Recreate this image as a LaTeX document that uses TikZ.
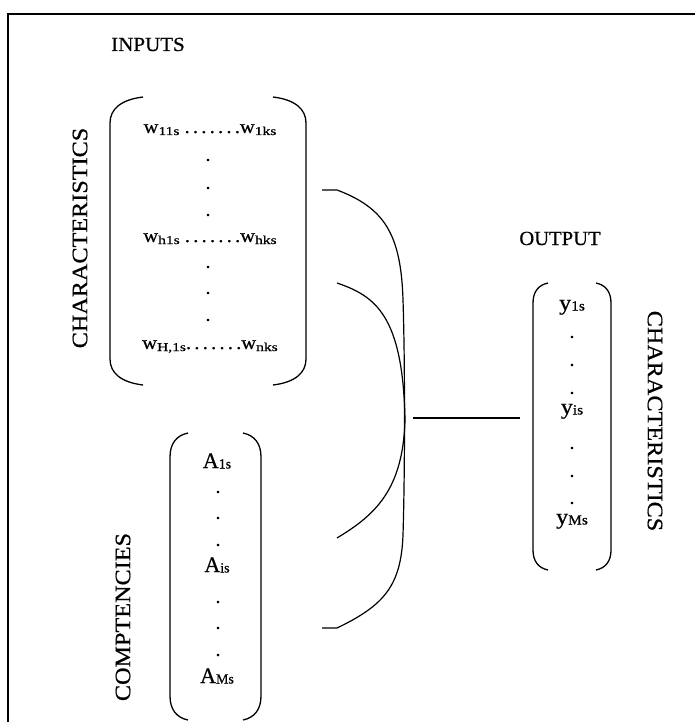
\documentclass[tikz,border=0pt]{standalone}
\usepackage{fontspec}
\setmainfont{Liberation Serif}[FakeBold=0.6]
\newcommand\sbs[1]{\raisebox{-2pt}{\fontsize{12}{12}\selectfont\scalebox{1.2}[1]{#1}}}
\newcommand\sbA[1]{\raisebox{-0.5pt}{\fontsize{14}{14}\selectfont #1}}
\newcommand\rowdots{.\hspace{3pt}.\hspace{3pt}.\hspace{3pt}.\hspace{3pt}.\hspace{3pt}.\hspace{3pt}.}
\newcommand\drawparens[6]{%
  \draw[brk] ({#1+#5},#3) .. controls ({#1+0.35*#5},{#3+0.1*#6}) and (#1,{#3+0.45*#6}) .. (#1,{#3+#6})
     -- (#1,{#4-#6}) .. controls (#1,{#4-0.45*#6}) and ({#1+0.35*#5},{#4-0.1*#6}) .. ({#1+#5},#4);
  \draw[brk] ({#2-#5},#3) .. controls ({#2-0.35*#5},{#3+0.1*#6}) and (#2,{#3+0.45*#6}) .. (#2,{#3+#6})
     -- (#2,{#4-#6}) .. controls (#2,{#4-0.45*#6}) and ({#2-0.35*#5},{#4-0.1*#6}) .. ({#2-#5},#4);}
\begin{document}
\begin{tikzpicture}[x=1pt,y=-1pt,
  every node/.style={inner sep=0pt},
  title/.style={anchor=base,font=\fontsize{20}{20}\selectfont},
  vtext/.style={font=\fontsize{22}{22}\selectfont},
  entry/.style={anchor=base,font=\fontsize{19}{19}\selectfont},
  big/.style={anchor=base,font=\fontsize{22}{22}\selectfont},
  vdot/.style={font=\fontsize{20}{20}\selectfont},
  brk/.style={line width=1.3pt},
  link/.style={line width=1.2pt}]
\useasboundingbox (0,0) rectangle (694,722);
\draw[line width=2.5pt] (8,723) -- (8,14) -- (695,14);

% titles
\node[title] (inputs) at (148,51) {\scalebox{1.05}[1]{INPUTS}};
\node[title] (output) at (560,245) {\scalebox{1.03}[1]{OUTPUT}};
\node[vtext,rotate=90] (charL) at (80,238) {\scalebox{1.1}[1]{CHARACTERISTICS}};
\node[vtext,rotate=90] (comp) at (123,617) {\scalebox{1.1}[1]{COMPTENCIES}};
\node[vtext,rotate=-90] (charR) at (655,421) {\scalebox{1.1}[1]{CHARACTERISTICS}};

% characteristics matrix
\drawparens{110}{306}{97}{385}{33}{26}
\node[entry] (w1) at (210,133) {\scalebox{1.08}[1]{w\sbs{11s} \rowdots w\sbs{1ks}}};
\node[entry] (wh) at (210,242) {\scalebox{1.08}[1]{w\sbs{h1s} \rowdots w\sbs{hks}}};
\node[entry] (wH) at (210,349) {\scalebox{1.08}[1]{w\sbs{H,1s}\rowdots w\sbs{nks}}};
\foreach \y [count=\i] in {160,188,215,267,293,320}
  \node[vdot] (wd\i) at (208,\y) {.};

% competencies matrix
\drawparens{170}{261}{433}{720}{18}{24}
\node[big] (a1) at (217,468) {A\sbA{1s}};
\node[big] (ai) at (217,572) {A\sbA{is}};
\node[big] (aM) at (217,683) {A\sbA{Ms}};
\foreach \y [count=\i] in {492,518,545,602,628,655}
  \node[vdot] (ad\i) at (218,\y) {.};

% output matrix
\drawparens{533}{611}{283}{570}{15}{20}
\node[big] (y1) at (572,310) {\scalebox{1.1}[1]{y\sbA{1s}}};
\node[big] (yi) at (572,414) {\scalebox{1.1}[1]{y\sbA{is}}};
\node[big] (yM) at (572,524) {\scalebox{1.1}[1]{y\sbA{Ms}}};
\foreach \y [count=\i] in {337,365,393,448,476,503}
  \node[vdot] (yd\i) at (572,\y) {.};

% connectors
\coordinate (oa) at (322,190);
\coordinate (ob) at (322,628);
\coordinate (ia) at (337,283);
\coordinate (ib) at (337,538);
\coordinate (hub) at (405,420);
\coordinate (la) at (413,418);
\coordinate (lb) at (520,418);
\draw[link] (oa) -- (337,190) .. controls (385,208) and (401,235) .. (403,300)
  .. controls (405,360) and (405,470) .. (403,535)
  .. controls (401,585) and (385,605) .. (337,628) -- (ob);
\draw[link] (ia) .. controls (375,296) and (403,315) .. (hub);
\draw[link] (ib) .. controls (375,515) and (403,490) .. (hub);
\draw[link] (la) -- (lb);
\end{tikzpicture}
\end{document}
